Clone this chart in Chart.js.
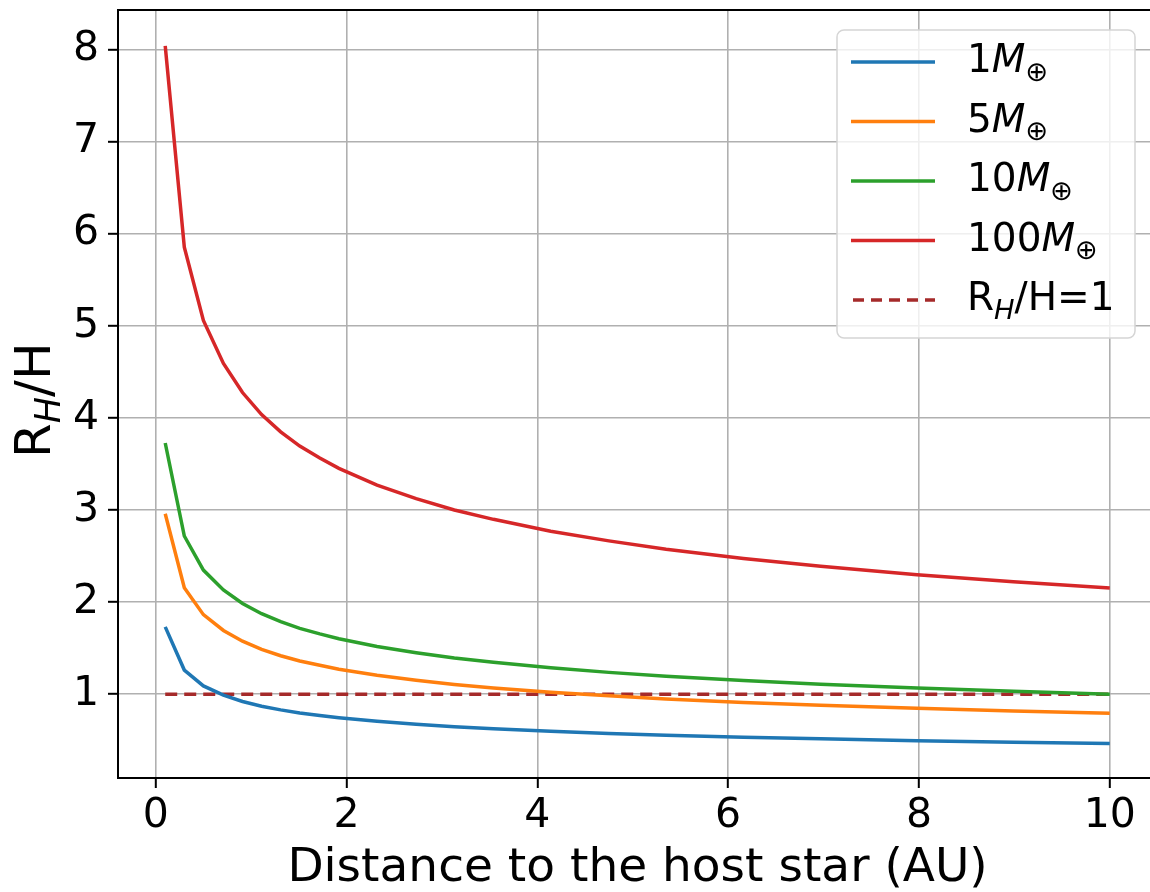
<!DOCTYPE html>
<html>
<head>
<meta charset="utf-8">
<script src="https://cdn.jsdelivr.net/npm/chart.js@4.4.0/dist/chart.umd.min.js"></script>
<style>
  html, body { margin: 0; padding: 0; background: #fff; overflow: hidden; }
  #wrap { width: 1170px; height: 892px; }
</style>
</head>
<body>
<div id="wrap"><canvas id="hillChart"></canvas></div>
<script>
// distance (AU) and R_H/H
const distance = [0.1, 0.3, 0.5, 0.71, 0.91, 1.11, 1.31, 1.51, 1.72, 1.92, 2.32, 2.73, 3.13, 3.54, 4.14, 4.75, 5.35, 6.16, 6.97, 7.98, 8.99, 10];
const mass1 = [1.731, 1.262, 1.090, 0.990, 0.921, 0.870, 0.830, 0.796, 0.768, 0.744, 0.705, 0.673, 0.647, 0.625, 0.597, 0.574, 0.555, 0.533, 0.515, 0.495, 0.479, 0.464];
const mass5 = [2.959, 2.157, 1.864, 1.692, 1.576, 1.487, 1.418, 1.361, 1.314, 1.272, 1.205, 1.151, 1.106, 1.068, 1.021, 0.982, 0.948, 0.911, 0.880, 0.847, 0.818, 0.794];
const mass10 = [3.728, 2.718, 2.348, 2.132, 1.985, 1.874, 1.787, 1.715, 1.655, 1.603, 1.518, 1.450, 1.393, 1.346, 1.286, 1.237, 1.195, 1.148, 1.109, 1.067, 1.031, 1.000];
const mass100 = [8.040, 5.855, 5.058, 4.592, 4.276, 4.037, 3.849, 3.694, 3.565, 3.453, 3.270, 3.123, 3.001, 2.899, 2.770, 2.665, 2.574, 2.473, 2.389, 2.298, 2.221, 2.154];
const refX = [0.1, 10];
const refY = [1, 1];
const xTicks = [0, 2, 4, 6, 8, 10];
const yTicks = [1, 2, 3, 4, 5, 6, 7, 8];

const FONT = "'DejaVu Sans', sans-serif";

function toPoints(xs, ys) {
    return xs.map((x, i) => ({ x: x, y: ys[i] }));
}

// legend entries: [colour, dashed, text parts]
const legendItems = [
    ['#1f77b4', false, [['1'], ['M', 'i'], ['⊕', 's']]],
    ['#ff7f0e', false, [['5'], ['M', 'i'], ['⊕', 's']]],
    ['#2ca02c', false, [['10'], ['M', 'i'], ['⊕', 's']]],
    ['#d62728', false, [['100'], ['M', 'i'], ['⊕', 's']]],
    ['#a52a2a', true, [['R'], ['H', 'is'], ['/H=1']]]
];

// draw mixed text: parts are [text, flags], i = italic, s = subscript
function drawRich(ctx, x, y, parts, size) {
    ctx.textBaseline = 'middle';
    ctx.textAlign = 'left';
    parts.forEach(p => {
        const flags = p[1] || '';
        const sub = flags.includes('s');
        const fs = sub ? size * 0.7 : size;
        ctx.font = (flags.includes('i') ? 'italic ' : '') + fs + 'px ' + FONT;
        ctx.fillText(p[0], x, sub ? y + size * 0.3 : y);
        x += ctx.measureText(p[0]).width;
    });
}

const extras = {
    id: 'extras',
    afterDraw(chart) {
        const ctx = chart.ctx;
        const area = chart.chartArea;
        ctx.save();
        // top spine
        ctx.strokeStyle = '#000';
        ctx.lineWidth = 2;
        ctx.beginPath();
        ctx.moveTo(area.left - 1, area.top);
        ctx.lineTo(area.right + 1, area.top);
        ctx.stroke();

        // y axis title
        ctx.save();
        ctx.translate(50, 458);
        ctx.rotate(-Math.PI / 2);
        ctx.fillStyle = '#000';
        ctx.font = '50px ' + FONT;
        ctx.textBaseline = 'alphabetic';
        let x = 0;
        ctx.fillText('R', x, 0); x += ctx.measureText('R').width;
        ctx.font = 'italic 35px ' + FONT;
        ctx.fillText('H', x, 10); x += ctx.measureText('H').width;
        ctx.font = '50px ' + FONT;
        ctx.fillText('/H', x, 0);
        ctx.restore();

        // legend box
        const bx = 837, by = 30, bw = 298, bh = 308, r = 7;
        ctx.beginPath();
        ctx.moveTo(bx + r, by);
        ctx.arcTo(bx + bw, by, bx + bw, by + bh, r);
        ctx.arcTo(bx + bw, by + bh, bx, by + bh, r);
        ctx.arcTo(bx, by + bh, bx, by, r);
        ctx.arcTo(bx, by, bx + bw, by, r);
        ctx.closePath();
        ctx.fillStyle = 'rgba(255,255,255,0.8)';
        ctx.fill();
        ctx.strokeStyle = '#d5d5d5';
        ctx.lineWidth = 1.5;
        ctx.stroke();

        legendItems.forEach((item, i) => {
            const cy = 62 + i * 59.5;
            ctx.strokeStyle = item[0];
            ctx.lineWidth = 3.5;
            ctx.setLineDash(item[1] ? [11, 7] : []);
            ctx.beginPath();
            ctx.moveTo(item[1] ? 853 : 851, cy);
            ctx.lineTo(935, cy);
            ctx.stroke();
            ctx.setLineDash([]);
            ctx.fillStyle = '#000';
            drawRich(ctx, 967, cy, item[2], 39);
        });
        ctx.restore();
    }
};

const ctx = document.getElementById('hillChart').getContext('2d');
const hillChart = new Chart(ctx, {
    type: 'line',
    data: {
        datasets: [{
            label: '1M',
            data: toPoints(distance, mass1),
            borderColor: '#1f77b4'
        }, {
            label: '5M',
            data: toPoints(distance, mass5),
            borderColor: '#ff7f0e'
        }, {
            label: '10M',
            data: toPoints(distance, mass10),
            borderColor: '#2ca02c'
        }, {
            label: '100M',
            data: toPoints(distance, mass100),
            borderColor: '#d62728'
        }, {
            label: 'RH/H=1',
            data: toPoints(refX, refY),
            borderColor: '#a52a2a',
            borderDash: [12, 7]
        }]
    },
    options: {
        responsive: true,
        maintainAspectRatio: false,
        animation: false,
        elements: {
            point: { radius: 0, hoverRadius: 0 },
            line: { tension: 0, fill: false, borderWidth: 3.5, borderCapStyle: 'butt' }
        },
        layout: {
            padding: { top: 10, right: 13, left: 0, bottom: 0 }
        },
        scales: {
            x: {
                type: 'linear',
                min: -0.395,
                max: 10.495,
                afterBuildTicks: axis => { axis.ticks = xTicks.map(v => ({ value: v })); },
                afterFit: axis => {
                    axis.height = 114;
                    axis.paddingLeft = 0;
                    axis.paddingRight = 0;
                },
                grid: {
                    color: '#b0b0b0',
                    lineWidth: 1.6,
                    tickColor: '#000',
                    tickLength: 10,
                    tickWidth: 2
                },
                border: { color: '#000', width: 2 },
                ticks: {
                    color: '#000',
                    padding: 4,
                    maxRotation: 0,
                    font: { family: FONT, size: 41 }
                },
                title: {
                    display: true,
                    text: 'Distance to the host star (AU)',
                    color: '#000',
                    padding: { top: 0, bottom: 0 },
                    font: { family: FONT, size: 47, lineHeight: 1 }
                }
            },
            y: {
                min: 0.09,
                max: 8.43,
                afterBuildTicks: axis => { axis.ticks = yTicks.map(v => ({ value: v })); },
                afterFit: axis => {
                    axis.width = 118;
                    axis.paddingTop = 0;
                    axis.paddingBottom = 0;
                },
                grid: {
                    color: '#b0b0b0',
                    lineWidth: 1.6,
                    tickColor: '#000',
                    tickLength: 10,
                    tickWidth: 2
                },
                border: { color: '#000', width: 2 },
                ticks: {
                    color: '#000',
                    padding: 9,
                    font: { family: FONT, size: 41 }
                }
            }
        },
        plugins: {
            legend: { display: false },
            tooltip: { enabled: false }
        }
    },
    plugins: [extras]
});
</script>
</body>
</html>
